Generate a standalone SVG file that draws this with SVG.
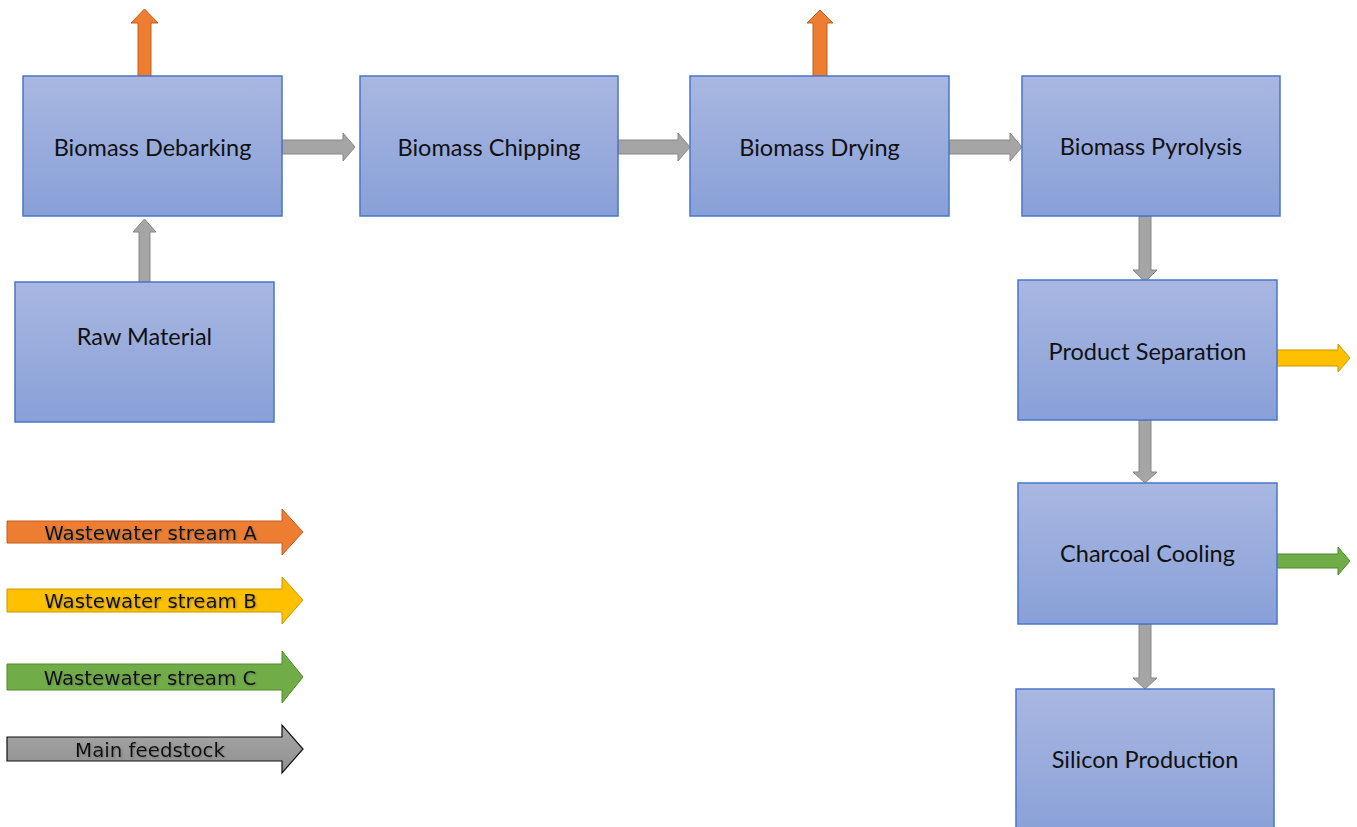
<svg xmlns="http://www.w3.org/2000/svg" width="1357" height="827" viewBox="0 0 1357 827">
  <defs>
    <linearGradient id="boxFill" x1="0" y1="0" x2="0" y2="1">
      <stop offset="0" stop-color="#a9b7e1"/>
      <stop offset="1" stop-color="#88a0d8"/>
    </linearGradient>
    <linearGradient id="keyGray" x1="0" y1="0" x2="0" y2="1">
      <stop offset="0" stop-color="#a8a8a8"/>
      <stop offset="1" stop-color="#8f8f8f"/>
    </linearGradient>
    <filter id="soft" x="-10%" y="-30%" width="120%" height="160%">
      <feDropShadow dx="1" dy="1" stdDeviation="0.8" flood-color="#555555" flood-opacity="0.55"/>
    </filter>
  </defs>
  <style>
    .box { fill: url(#boxFill); stroke: #4a76c9; stroke-width: 1.5; }
    .label { font-family: Lato, "Liberation Sans", sans-serif; font-size: 23.5px; fill: #111111; text-anchor: middle; }
    .feed { fill: #a5a5a5; stroke: #878787; stroke-width: 1; }
    .orange { fill: #ed7d31; stroke: #c25e1e; stroke-width: 1; }
    .yellow { fill: #ffc000; stroke: #c99700; stroke-width: 1; }
    .green { fill: #70ad47; stroke: #4f8a2c; stroke-width: 1; }
    .keygray { fill: url(#keyGray); stroke: #111111; stroke-width: 1.2; }
    .keytext { font-family: "DejaVu Sans", Verdana, sans-serif; font-size: 19.8px; fill: #111111; text-anchor: middle; filter: url(#soft); }
  </style>

  <rect width="1357" height="827" fill="#ffffff"/>

  <!-- connectors between process steps and waste outlets -->
  <g id="connectors">
    <!-- debarking waste up -->
    <path class="orange" d="M138,76 V23 H131 L144.5,9 L158,23 H151 V76 Z"/>
    <!-- drying waste up -->
    <path class="orange" d="M813,76 V23 H807 L820,10 L833,23 H827 V76 Z"/>
    <!-- raw material to debarking -->
    <path class="feed" d="M139,282 V232 H133 L144.5,219 L156,232 H150 V282 Z"/>
    <!-- horizontal feed arrows -->
    <path class="feed" d="M282,140 H343 V133 L355,147 L343,161 V154 H282 Z"/>
    <path class="feed" d="M618,140 H678 V133 L690,147 L678,161 V154 H618 Z"/>
    <path class="feed" d="M949,140 H1010 V133 L1022,147 L1010,161 V154 H949 Z"/>
    <!-- vertical feed arrows down the right column -->
    <path class="feed" d="M1139,216 V270 H1133 L1145,282 L1157,270 H1151 V216 Z"/>
    <path class="feed" d="M1139,420 V472 H1133 L1145,483 L1157,472 H1151 V420 Z"/>
    <path class="feed" d="M1139,624 V678 H1133 L1145,689 L1157,678 H1151 V624 Z"/>
    <!-- side outlets -->
    <path class="yellow" d="M1277,350 H1338 V344 L1350,358 L1338,372 V366 H1277 Z"/>
    <path class="green" d="M1277,554 H1338 V547 L1350,561 L1338,575 V568 H1277 Z"/>
  </g>

  <g id="debarking">
    <rect class="box" x="23" y="76" width="259" height="140"/>
    <text class="label" x="152.5" y="156">Biomass Debarking</text>
  </g>
  <g id="chipping">
    <rect class="box" x="360" y="76" width="258" height="140"/>
    <text class="label" x="489" y="156">Biomass Chipping</text>
  </g>
  <g id="drying">
    <rect class="box" x="690" y="76" width="259" height="140"/>
    <text class="label" x="819.5" y="156">Biomass Drying</text>
  </g>
  <g id="pyrolysis">
    <rect class="box" x="1022" y="76" width="258" height="140"/>
    <text class="label" x="1151" y="155">Biomass Pyrolysis</text>
  </g>
  <g id="raw-material">
    <rect class="box" x="15" y="282" width="259" height="140"/>
    <text class="label" x="144.5" y="345">Raw Material</text>
  </g>
  <g id="separation">
    <rect class="box" x="1018" y="280" width="259" height="140"/>
    <text class="label" x="1147.5" y="360">Product Separation</text>
  </g>
  <g id="cooling">
    <rect class="box" x="1018" y="483" width="259" height="141"/>
    <text class="label" x="1147.5" y="562">Charcoal Cooling</text>
  </g>
  <g id="silicon">
    <rect class="box" x="1016" y="689" width="258" height="150"/>
    <text class="label" x="1145" y="768">Silicon Production</text>
  </g>

  <!-- key -->
  <g id="legend">
    <g id="key-a">
      <path class="orange" d="M7,521 H282 V509 L303,532 L282,555 V543 H7 Z"/>
      <text class="keytext" x="150.5" y="540">Wastewater stream A</text>
    </g>
    <g id="key-b">
      <path class="yellow" d="M7,589 H282 V577 L303,600 L282,624 V612 H7 Z"/>
      <text class="keytext" x="150.5" y="608">Wastewater stream B</text>
    </g>
    <g id="key-c">
      <path class="green" d="M7,664 H282 V651 L303,677 L282,703 V690 H7 Z"/>
      <text class="keytext" x="150" y="685">Wastewater stream C</text>
    </g>
    <g id="key-main">
      <path class="keygray" d="M7,737 H282 V725 L303,749 L282,773 V761 H7 Z"/>
      <text class="keytext" x="150" y="757">Main feedstock</text>
    </g>
  </g>
</svg>
